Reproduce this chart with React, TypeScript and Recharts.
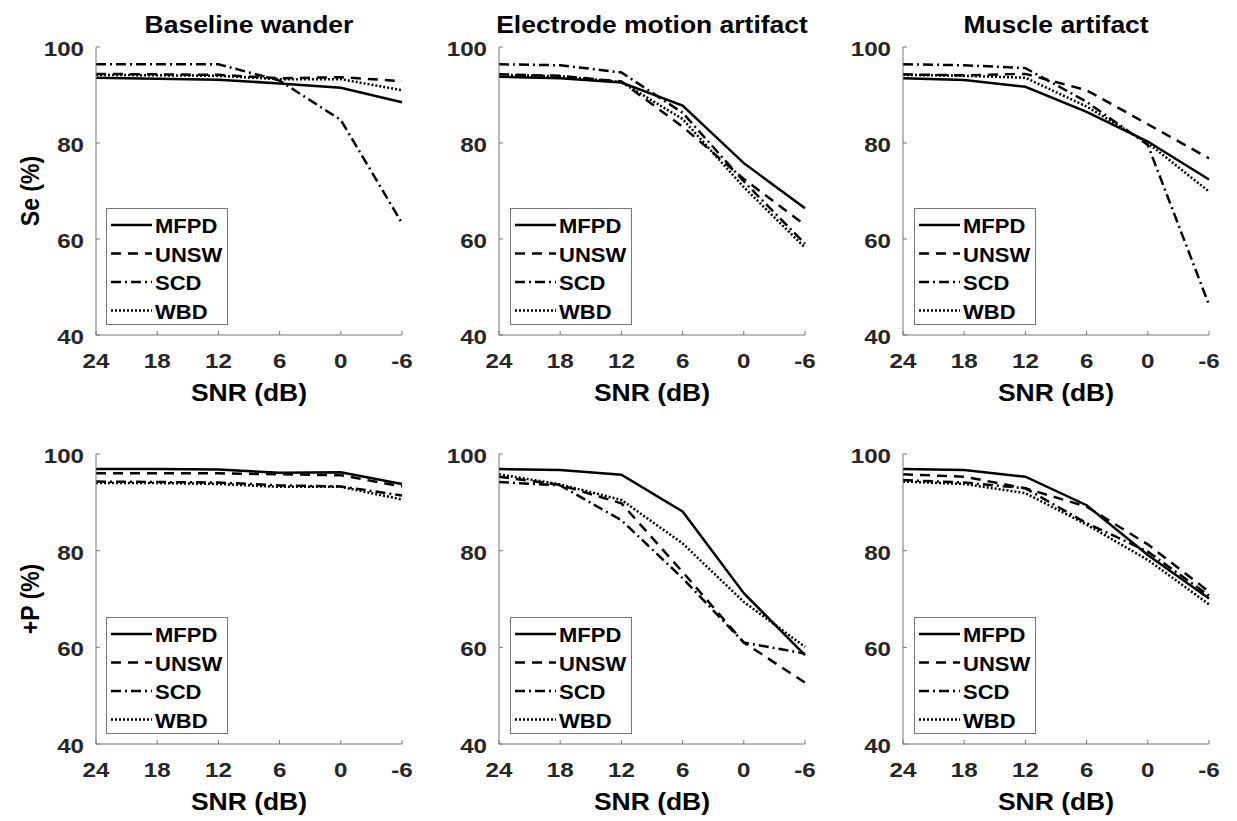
import React from 'react';
import { LineChart, Line, XAxis, YAxis, Legend } from 'recharts';

const SNR = ['24', '18', '12', '6', '0', '-6'];
const Y_TICKS = [40, 60, 80, 100];
const METHODS = ['MFPD', 'UNSW', 'SCD', 'WBD'];
const TITLES = ['Baseline wander', 'Electrode motion artifact', 'Muscle artifact'];
const ROW_LABELS = ['Se (%)', '+P (%)'];

// Se (%) - baseline wander, electrode motion, muscle artifact
const seBwMFPD = [93.6, 93.4, 93.2, 92.4, 91.5, 88.5];
const seBwUNSW = [94.4, 94.3, 94.2, 93.5, 93.7, 92.9];
const seBwSCD = [96.4, 96.4, 96.4, 93.0, 84.8, 63.3];
const seBwWBD = [94.2, 94.1, 94.0, 93.3, 93.3, 91.0];

const seEmMFPD = [93.8, 93.5, 92.6, 87.8, 75.8, 66.4];
const seEmUNSW = [94.3, 94.0, 92.8, 83.4, 72.5, 62.9];
const seEmSCD = [96.4, 96.2, 94.7, 86.3, 72.0, 59.0];
const seEmWBD = [94.2, 93.9, 92.7, 85.0, 70.8, 58.2];

const seMaMFPD = [93.5, 93.1, 91.7, 86.5, 80.3, 72.4];
const seMaUNSW = [94.3, 94.1, 94.4, 91.0, 83.9, 76.8];
const seMaSCD = [96.4, 96.2, 95.6, 88.6, 79.6, 46.3];
const seMaWBD = [94.2, 94.0, 93.6, 87.6, 80.0, 69.9];

// +P (%)
const ppBwMFPD = [96.9, 96.9, 96.8, 96.1, 96.2, 93.8];
const ppBwUNSW = [96.0, 96.0, 96.0, 95.8, 95.6, 93.3];
const ppBwSCD = [94.3, 94.2, 94.1, 93.5, 93.3, 91.4];
const ppBwWBD = [94.0, 94.0, 93.8, 93.2, 93.2, 90.6];

const ppEmMFPD = [96.9, 96.7, 95.7, 88.1, 71.2, 58.4];
const ppEmUNSW = [95.3, 93.6, 89.8, 75.6, 61.0, 52.7];
const ppEmSCD = [94.2, 93.5, 86.3, 74.3, 61.0, 58.7];
const ppEmWBD = [95.8, 93.7, 90.5, 81.5, 69.4, 60.1];

const ppMaMFPD = [96.9, 96.7, 95.3, 89.4, 79.1, 70.1];
const ppMaUNSW = [95.8, 95.3, 92.9, 89.1, 81.3, 71.5];
const ppMaSCD = [94.6, 94.1, 92.9, 85.7, 79.8, 70.7];
const ppMaWBD = [94.3, 93.8, 91.9, 85.4, 78.1, 68.9];

const GRID = [
  [
    [seBwMFPD, seBwUNSW, seBwSCD, seBwWBD],
    [seEmMFPD, seEmUNSW, seEmSCD, seEmWBD],
    [seMaMFPD, seMaUNSW, seMaSCD, seMaWBD],
  ],
  [
    [ppBwMFPD, ppBwUNSW, ppBwSCD, ppBwWBD],
    [ppEmMFPD, ppEmUNSW, ppEmSCD, ppEmWBD],
    [ppMaMFPD, ppMaUNSW, ppMaSCD, ppMaWBD],
  ],
];

const DASH: Record<string, string | undefined> = {
  MFPD: undefined,
  UNSW: '10 7',
  SCD: '10 4 2 4',
  WBD: '2 2',
};

const FONT = '"Liberation Sans", Arial, Helvetica, sans-serif';
const AXIS = '#777';
const COL_LEFT = [95.7, 499, 903];
const PW = 306;
const ROW_TOP = [47, 454];
const ROW_H = [288, 290];

function toRows(series: number[][]) {
  return SNR.map((s, i) => {
    const row: Record<string, string | number> = { snr: s };
    METHODS.forEach((m, k) => {
      row[m] = series[k][i];
    });
    return row;
  });
}

function XTick({ x, y, payload }: any) {
  return (
    <g>
      <line x1={x} x2={x} y1={y} y2={y - 4} stroke={AXIS} />
      <text
        transform={`translate(${x},${y + 26}) scale(1.15,1)`}
        textAnchor="middle"
        dominantBaseline="central"
        fontFamily={FONT}
        fontWeight="bold"
        fontSize={21}
        fill="#262626"
      >
        {payload.value}
      </text>
    </g>
  );
}

function YTick({ x, y, payload }: any) {
  return (
    <g>
      <line x1={x} x2={x + 4} y1={y} y2={y} stroke={AXIS} />
      <text
        transform={`translate(${x - 12},${y + 2}) scale(1.15,1)`}
        textAnchor="end"
        dominantBaseline="central"
        fontFamily={FONT}
        fontWeight="bold"
        fontSize={21}
        fill="#262626"
      >
        {payload.value}
      </text>
    </g>
  );
}

function LegendBox() {
  return (
    <svg width={122} height={117} style={{ display: 'block' }}>
      <rect x={0.5} y={0.5} width={121} height={116} fill="#fff" stroke={AXIS} />
      {METHODS.map((m, i) => {
        const cy = 17 + i * 28.5;
        return (
          <g key={m}>
            <line x1={5} x2={46} y1={cy} y2={cy} stroke="#000" strokeWidth={2.5} strokeDasharray={DASH[m]} />
            <text
              transform={`translate(49,${cy + 1}) scale(1.1,1)`}
              dominantBaseline="central"
              fontFamily={FONT}
              fontWeight="bold"
              fontSize={20}
              fill="#000"
            >
              {m}
            </text>
          </g>
        );
      })}
    </svg>
  );
}

function Panel({ series, left, top, h }: { series: number[][]; left: number; top: number; h: number }) {
  const rows = toRows(series);
  return (
    <div style={{ position: 'absolute', left: left - 60, top: top - 10 }}>
      <LineChart width={60 + PW + 20} height={10 + h + 40} data={rows} margin={{ top: 10, right: 20, bottom: 0, left: 0 }}>
        <XAxis
          dataKey="snr"
          height={40}
          stroke={AXIS}
          tickLine={false}
          tickSize={0}
          tickMargin={0}
          interval={0}
          tick={(p: any) => <XTick {...p} />}
        />
        <YAxis
          type="number"
          domain={[40, 100]}
          ticks={Y_TICKS}
          width={60}
          stroke={AXIS}
          tickLine={false}
          tickSize={0}
          tickMargin={0}
          interval={0}
          tick={(p: any) => <YTick {...p} />}
        />
        <Legend
          layout="horizontal"
          verticalAlign="middle"
          align="center"
          wrapperStyle={{ left: 70.5, top: h - 117, width: 122, height: 117 }}
          content={() => <LegendBox />}
        />
        {METHODS.map((m) => (
          <Line
            key={m}
            type="linear"
            dataKey={m}
            name={m}
            stroke="#000"
            strokeWidth={2.5}
            strokeDasharray={DASH[m]}
            dot={false}
            activeDot={false}
            isAnimationActive={false}
          />
        ))}
      </LineChart>
    </div>
  );
}

const label: React.CSSProperties = {
  position: 'absolute',
  fontFamily: FONT,
  fontWeight: 700,
  fontSize: 23,
  color: '#000',
  whiteSpace: 'nowrap',
  lineHeight: 1,
};

export default function App() {
  return (
    <div style={{ position: 'absolute', left: 0, top: 0, width: 1237, height: 821, background: '#fff', overflow: 'hidden' }}>
      {TITLES.map((t, c) => (
        <div key={t} style={{ ...label, left: COL_LEFT[c] + PW / 2, top: 25, transform: 'translate(-50%,-50%) scaleX(1.15)' }}>
          {t}
        </div>
      ))}
      {ROW_LABELS.map((t, r) => (
        <div
          key={t}
          style={{ ...label, left: 30, top: ROW_TOP[r] + ROW_H[r] / 2, transform: 'translate(-50%,-50%) scaleX(1.15) rotate(-90deg)' }}
        >
          {t}
        </div>
      ))}
      {GRID.map((row, r) =>
        row.map((series, c) => (
          <React.Fragment key={`${r}-${c}`}>
            <Panel series={series} left={COL_LEFT[c]} top={ROW_TOP[r]} h={ROW_H[r]} />
            <div style={{ ...label, left: COL_LEFT[c] + PW / 2, top: ROW_TOP[r] + ROW_H[r] + 58, transform: 'translate(-50%,-50%) scaleX(1.15)' }}>
              SNR (dB)
            </div>
          </React.Fragment>
        ))
      )}
    </div>
  );
}
